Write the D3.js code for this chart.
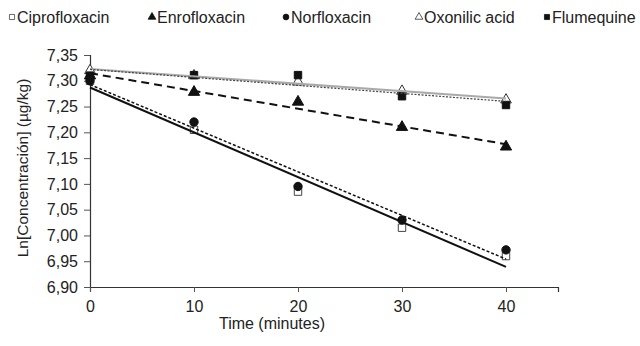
<!DOCTYPE html>
<html>
<head>
<meta charset="utf-8">
<script src="https://cdn.jsdelivr.net/npm/d3@7"></script>
<style>
  body { margin: 0; background: #fff; }
  svg text { font-family: "Liberation Sans", Arial, sans-serif; fill: #222; }
</style>
</head>
<body>
<div id="chart"></div>
<script>
// sampling times (minutes)
const times = [0, 10, 20, 30, 40];
const xTicks = [0, 10, 20, 30, 40];
const yTicks = [6.90, 6.95, 7.00, 7.05, 7.10, 7.15, 7.20, 7.25, 7.30, 7.35];

// Ln[concentration] per compound
const ciprofloxacin = [7.300, 7.205, 7.085, 7.015, 6.960];
const enrofloxacin = [7.310, 7.278, 7.259, 7.210, 7.172];
const norfloxacin = [7.300, 7.220, 7.095, 7.030, 6.972];
const oxolinic = [7.320, 7.310, 7.298, 7.280, 7.263];
const flumequine = [7.310, 7.311, 7.311, 7.270, 7.253];

const seriesNames = ["Ciprofloxacin", "Enrofloxacin", "Norfloxacin", "Oxonilic acid", "Flumequine"];
const seriesValues = [ciprofloxacin, enrofloxacin, norfloxacin, oxolinic, flumequine];

// marker + trend line look for each series
const styles = [
  { symbol: d3.symbolSquare, size: 55, fill: "#fff", stroke: "#444", line: "#111", width: 2, dash: null },
  { symbol: d3.symbolTriangle, size: 55, fill: "#111", stroke: "#111", line: "#111", width: 2, dash: "8,5" },
  { symbol: d3.symbolCircle, size: 55, fill: "#111", stroke: "#111", line: "#111", width: 1.5, dash: "3,2" },
  { symbol: d3.symbolTriangle, size: 50, fill: "#fff", stroke: "#333", line: "#aaa", width: 2, dash: null },
  { symbol: d3.symbolSquare, size: 55, fill: "#111", stroke: "#111", line: "#444", width: 1.2, dash: "2,1.5" }
];

var margin = { top: 55, right: 82, bottom: 59, left: 90 },
  width = 640 - margin.left - margin.right,
  height = 346 - margin.top - margin.bottom;

const locale = d3.formatLocale({ decimal: ",", thousands: ".", grouping: [3], currency: ["", ""] });
const fmtY = locale.format(".2f");

var svgRoot = d3.select("#chart").append("svg")
  .attr("width", 640)
  .attr("height", 346);

var svg = svgRoot.append("g")
  .attr("transform", "translate(" + margin.left + "," + margin.top + ")");

var x = d3.scaleLinear().domain([0, 45]).range([0, width]);
var y = d3.scaleLinear().domain([6.90, 7.35]).range([height, 0]);

// linear regression for the trend lines
function fit(vals) {
  const mx = d3.mean(times), my = d3.mean(vals);
  let num = 0, den = 0;
  times.forEach((t, i) => { num += (t - mx) * (vals[i] - my); den += (t - mx) * (t - mx); });
  const b = num / den;
  return { a: my - b * mx, b: b };
}

// axes
var yAxis = svg.append("g")
  .call(d3.axisLeft(y).tickValues(yTicks).tickFormat(fmtY).tickSize(6).tickPadding(6));
var xAxis = svg.append("g")
  .attr("transform", "translate(0," + height + ")")
  .call(d3.axisBottom(x).tickValues(xTicks).tickSize(5).tickPadding(9));

[xAxis, yAxis].forEach(g => {
  g.select(".domain").attr("stroke", "#333").attr("stroke-width", 1.2);
  g.selectAll(".tick line").attr("stroke", "#555");
  g.selectAll("text").style("font-size", "16px").attr("fill", "#222");
});

// markers
seriesValues.forEach((vals, i) => {
  const st = styles[i];
  svg.append("g")
    .selectAll("path")
    .data(vals)
    .enter()
    .append("path")
    .attr("d", d3.symbol().type(st.symbol).size(st.size))
    .attr("transform", (d, j) => "translate(" + x(times[j]) + "," + y(d) + ")")
    .attr("fill", st.fill)
    .attr("stroke", st.stroke)
    .attr("stroke-width", 1);
});

// trend lines
const line = d3.line().x(d => x(d[0])).y(d => y(d[1]));
seriesValues.forEach((vals, i) => {
  const st = styles[i];
  const f = fit(vals);
  const ends = [times[0], times[times.length - 1]].map(t => [t, f.a + f.b * t]);
  svg.append("path")
    .attr("d", line(ends))
    .attr("fill", "none")
    .attr("stroke", st.line)
    .attr("stroke-width", st.width)
    .attr("stroke-dasharray", st.dash);
});

// axis titles
svg.append("text")
  .attr("x", width / 2 - 52)
  .attr("y", height + 42)
  .attr("text-anchor", "middle")
  .style("font-size", "16px")
  .text("Time (minutes)");

svgRoot.append("text")
  .attr("transform", "rotate(-90)")
  .attr("x", -168)
  .attr("y", 28)
  .attr("text-anchor", "middle")
  .style("font-size", "15.5px")
  .text("Ln[Concentración] (µg/kg)");

// legend
const legendX = [12, 152, 286, 419, 547];
const legend = svgRoot.append("g").attr("transform", "translate(0,17)");
seriesNames.forEach((name, i) => {
  const st = styles[i];
  const item = legend.append("g").attr("transform", "translate(" + legendX[i] + ",0)");
  item.append("path")
    .attr("d", d3.symbol().type(st.symbol).size(26))
    .attr("fill", st.fill)
    .attr("stroke", st.stroke)
    .attr("stroke-width", 0.8);
  item.append("text")
    .attr("x", 5)
    .attr("y", 6)
    .style("font-size", "16px")
    .text(name);
});
</script>
</body>
</html>
